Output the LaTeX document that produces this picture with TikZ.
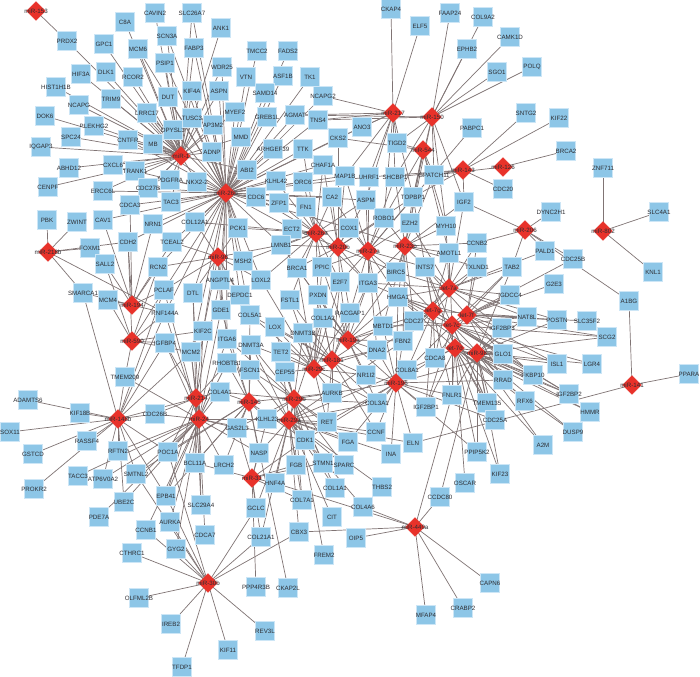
\documentclass[tikz,border=0pt]{standalone}
\usepackage{fontspec}
\usetikzlibrary{shapes.geometric}
\newfontfamily\netfam{Liberation Sans}
\newcommand\netlabelfont{\netfam\fontsize{6.2}{7}\selectfont}
\definecolor{geneblue}{RGB}{141,198,231}
\definecolor{genebd}{RGB}{205,230,246}
\definecolor{mirred}{RGB}{232,50,42}
\definecolor{edgec}{RGB}{128,116,116}
\definecolor{txtc}{RGB}{45,45,50}
\pgfdeclarelayer{bglayer}
\pgfdeclarelayer{edgelayer}
\pgfsetlayers{bglayer,edgelayer,main}
\tikzset{
  gene/.style={rectangle, fill=geneblue, draw=genebd, line width=0.5pt, minimum size=19pt, inner sep=0pt, font=\netlabelfont, text=txtc},
  mirna/.style={diamond, fill=mirred, draw=mirred, minimum width=19pt, minimum height=19pt, inner sep=0pt, font=\netlabelfont, text=txtc},
  edge/.style={draw=edgec, line width=0.7pt}
}
\begin{document}
\begin{tikzpicture}[x=1pt,y=-1pt]
\begin{pgfonlayer}{bglayer}
\fill[white] (0,0) rectangle (700,676);
\end{pgfonlayer}
\useasboundingbox (0,0) rectangle (700,676);
% genes
\foreach \n/\x/\y in {
PRDX2/67/41, C8A/125/22, CAVIN2/155/13, SCN3A/167/36, GPC1/104/44, MCM6/138/49, PSIP1/165/63, HIF3A/81/74, DLK1/106/72, RCOR2/133/77, HIST1H1B/56/87, DUT/168/97, NCAPG/79/105, TRIM9/111/99, LRRC17/147/113, DOK6/45/116, PLEKHG2/94/126, DPYSL3/173/130, SPC24/71/137, CNTFR/128/140, MB/153/144, IQGAP3/41/147, ABHD12/69/168, CXCL6/113/165, TRANK1/135/171, PDGFRA/170/180, CENPF/48/187, ERCC6L/103/191, CDC27B/148/188, TAC3/171/202, CDCA3/130/205, PBK/47/220, ZWINT/77/222, CAV1/103/220, NRN1/153/224,
SLC26A7/192/13, ANK1/221/28, FABP3/194/48, TMCC2/257/51, FADS2/288/51, WDR25/222/67, VTN/246/77, ASF1B/283/76, TK1/310/77, SAMD14/265/93, NCAPG2/323/96, KIF4A/192/91, ASPN/219/91, MYEF2/235/112, GREB1L/267/117, AGMAT/295/115, TNS4/318/120, TUSC3/192/118, AP3M2/213/125, MMD/241/137, ARHGEF39/273/149, TTK/303/149, CKS2/338/138, ADNP/212/152, CHAF1A/323/165, ABI2/247/170, KLHL42/276/181, ORC6/303/182, MAP1B/345/176, NKX2-2/197/182, CDC6/256/197, FN1/306/207, CA2/332/197, ZFP1/279/203, COL12A1/195/222, PCK1/238/228, ECT2/292/229,
CKAP4/391/9, ELF5/420/26, FAAP24/450/13, COL9A2/483/17, CAMK1D/510/37, EPHB2/467/49, SGO1/497/72, POLQ/532/67, ANO3/362/127, PABPC1/472/128, TIGD2/397/143, UHRF1/369/177, SHCBP1/395/177, GPATCH11/434/175, CDC20/503/189, ASPM/366/200, TOPBP1/413/197, IGF2/464/202, ROBO1/384/218, EZH2/410/223, MYH10/446/226, COX1/349/228, SNTG2/526/113, KIF22/559/118, BRCA2/566/151, ZNF711/603/168, DYNC2H1/551/212, SLC4A1/659/212,
FOXM1/90/248, CDH2/128/242, TCEAL2/172/242, SALL2/105/264, RCN2/158/267, SMARCA1/83/293, MCM4/108/300, PCLAF/164/290, RNF144A/165/313, IGFBP4/165/343, TMEM209/125/377, ADAMTS6/28/400, KIF18B/80/413, CDC26B/155/414, SOX11/10/432, RASSF4/87/441,
LMNB1/281/245, MSH2/243/261, BRCA1/297/268, PPIC/322/267, ANGPTL4/220/280, LOXL2/261/280, E2F7/340/282, DTL/193/293, DEPDC1/240/295, FSTL1/290/300, PXDN/318/295, GDE1/221/310, COL5A1/250/315, RACGAP1/350/313, COL1A2/323/318, KIF2C/203/331, LOX/275/327, DNMT3B/303/333, ITGA6/227/339, DNMT3A/251/345, MCM2/191/352, TET2/281/352, RHOBTB1/227/363, FSCN1/250/370, CEP55/285/372, COL4A1/220/392, AURKB/332/393, KLHL23/267/419, RET/327/422, GAS2L3/237/428, CDK1/305/440,
CCNB2/477/243, AMOTL1/449/253, BIRC5/396/272, INTS7/425/267, TXLND1/477/267, TAB2/512/267, ITGA3/368/283, HMGA1/398/297, IGDCC4/510/295, MBTD1/383/326, CDC27/414/321, IGF2BP3/502/328, FBN2/403/341, GLO1/503/354, DNA2/377/350, CDCA8/435/358, COL8A1/407/370, NR1I2/366/375, RRAD/503/380, FNLR1/452/395, TMEM135/487/403, COL3A1/377/403, IGF2BP1/426/407, CDC25A/495/420, CCNF/376/432, FGA/348/442, ELN/413/443,
PALD1/545/251, CDC25B/573/259, KNL1/653/272, G2E3/554/284, A1BG/629/301, NAT8L/527/317, POSTN/557/320, SLC35F2/587/321, SCG2/607/337, ISL1/557/364, LGR4/592/364, FKBP10/533/375, PPARA/689/374, IGF2BP2/569/394, RFX6/525/401, HMMR/590/412, DUSP9/573/432, A2M/543/445,
GSTCD/33/454, RFTN2/118/451, POC1A/168/452, PROKR2/34/489, TACC3/78/476, ATP6V0A2/103/479, SMTNL2/136/474, UBE2C/124/502, EPB41/166/496, PDE7A/99/517, CCNB1/146/530, AURKA/170/522, GYG2/176/549, CTHRC1/132/553, OLFML2B/139/598, IREB2/171/624, TFDP1/182/667,
BCL11A/195/463, LRCH2/224/465, NASP/259/453, HNF4A/275/483, FGB/296/465, STMN1/323/463, SPARC/344/465, COL1A1/335/488, SLC29A4/201/505, GCLC/256/508, COL7A1/302/500, CIT/332/517, CDCA7/205/535, COL21A1/261/537, CBX3/299/532, FREM2/324/555, PPP4R3B/256/587, CKAP2L/288/588, REV3L/265/631, KIF11/228/650,
INA/391/454, PPIP5K2/477/452, KIF23/500/474, THBS2/382/487, OSCAR/465/483, CCDC80/440/497, COL4A6/363/507, OIP5/356/538, CAPN6/490/583, CRABP2/463/608, MFAP4/426/615}
{\node[gene] (\n) at (\x,\y) {\makebox[0pt]{\n}};}
% miRNAs
\foreach \n/\t/\x/\y in {
m153/miR-153/36/11, m1/miR-1/181/156, m26b/miR-26b/226/193, m217/miR-217/393/113, m150/miR-150/432/117, m544/miR-544/423/150, m143/miR-143/463/170, m126/miR-126/503/167, m206/miR-206/525/230, m802/miR-802/603/231, m218/miR-218b/48/252, m194/miR-194/132/305, m590/miR-590/132/341, m96/miR-96/218/257, m26a/miR-26a/316/233, m20b/miR-20b/338/247, m27a/miR-27a/368/251, m23b/miR-23b/405/246, l7a/let-7a/449/288, l7g/let-7g/433/311, l7f/let-7f/467/315, l7c/let-7c/452/325, l7d/let-7d/455/348, m98/miR-98/477/353, m19a/miR-19a/348/340, m196/miR-196/396/383, m181/miR-181/332/360, m29c/miR-29c/314/369, m29b/miR-29b/294/399, m29a/miR-29a/289/420, m145/miR-145/249/402, m214/miR-214/196/398, m24/miR-24/199/419, m148/miR-148b/118/419, m31/miR-31/252/478, m30b/miR-30b/208/583, m449/miR-449a/415/527, m141/miR-141/632/385}
{\node[mirna] (\n) at (\x,\y) {\makebox[0pt]{\t}};}
% edges
\begin{pgfonlayer}{edgelayer}
\foreach \m/\gs in {
m153/{PRDX2},
m1/{PRDX2,C8A,CAVIN2,SCN3A,GPC1,MCM6,PSIP1,HIF3A,DLK1,RCOR2,HIST1H1B,DUT,NCAPG,TRIM9,LRRC17,DOK6,PLEKHG2,DPYSL3,SPC24,CNTFR,MB,IQGAP3,ABHD12,CXCL6,TRANK1,PDGFRA,CENPF,ERCC6L,CDC27B,FABP3,KIF4A,TUSC3,SLC26A7,ANK1,AP3M2,ADNP,NKX2-2,ABI2,MMD,WDR25,ASPN,MYEF2,TAC3,CDCA3},
m26b/{SCN3A,PSIP1,DUT,MCM6,FABP3,KIF4A,SLC26A7,TUSC3,ASPN,WDR25,VTN,TMCC2,SAMD14,GREB1L,MYEF2,MMD,AP3M2,ADNP,ARHGEF39,AGMAT,TNS4,TTK,ABI2,KLHL42,CDC6,ZFP1,ORC6,CHAF1A,CKS2,NCAPG2,TK1,FN1,CA2,MAP1B,ECT2,PCK1,COL12A1,NKX2-2,PDGFRA,TAC3,CDC27B,CDCA3,ERCC6L,CAV1,NRN1,TCEAL2,TRANK1,MB,CNTFR,LRRC17,DPYSL3,CDH2,RCN2,PCLAF,DTL,MSH2,ANGPTL4,DEPDC1,GDE1,KIF2C,LMNB1,ASF1B,FADS2,COX1,ASPM,UHRF1,ANO3,ITGA6,MCM2,RNF144A,COL5A1,LOXL2},
m217/{CKAP4,ELF5,NCAPG2,TNS4,ANO3,TIGD2,SHCBP1,UHRF1,MAP1B,ASPM,ROBO1,CKS2,TOPBP1,AGMAT},
m150/{FAAP24,COL9A2,EPHB2,CAMK1D,SGO1,POLQ,TNS4,AGMAT,GPATCH11,IGF2,TOPBP1,EZH2,SHCBP1,MYH10,TIGD2},
m544/{CKS2,TIGD2,TOPBP1,EZH2,ROBO1,GPATCH11,MYH10,AMOTL1},
m143/{SNTG2,KIF22,GPATCH11,SHCBP1,IGF2,CDC20,UHRF1,TOPBP1},
m126/{BRCA2,GPATCH11},
m206/{DYNC2H1,PALD1,A1BG,TAB2,CDC25B,CCNB2,IGF2},
m802/{ZNF711,SLC4A1,KNL1},
m141/{A1BG,PPARA,ELN},
l7a/{CCNB2,AMOTL1,TXLND1,TAB2,INTS7,BIRC5,HMGA1,MYH10,IGF2,EZH2,CDC27,IGDCC4,NAT8L,PALD1,IGF2BP3,FBN2,CDCA8,ITGA3,POSTN},
l7g/{AMOTL1,INTS7,HMGA1,BIRC5,CDC27,MBTD1,FBN2,CDCA8,COL8A1,IGF2BP1,FNLR1,TXLND1,GLO1,IGF2BP2,DNA2,NAT8L,TOPBP1,ITGA3},
l7f/{CCNB2,TXLND1,TAB2,IGDCC4,G2E3,NAT8L,POSTN,SLC35F2,SCG2,IGF2BP3,GLO1,RRAD,FKBP10,ISL1,HMGA1,CDC25B,INTS7,CDCA8},
l7c/{HMGA1,INTS7,IGDCC4,NAT8L,SCG2,ISL1,LGR4,FKBP10,IGF2BP2,RRAD,TMEM135,CDC25A,FNLR1,IGF2BP1,CDC27,MBTD1,COL8A1,GLO1,TAB2,AMOTL1},
l7d/{CDCA8,FNLR1,IGF2BP1,TMEM135,CDC25A,RRAD,RFX6,HMMR,DUSP9,A2M,IGF2BP2,FKBP10,GLO1,COL8A1,HMGA1,INTS7,PPIP5K2,KIF23,OSCAR},
m98/{GLO1,RRAD,RFX6,A2M,HMMR,DUSP9,IGF2BP2,ISL1,LGR4,SCG2,FKBP10,TMEM135,CDC25A,PPIP5K2,IGF2BP3,NAT8L,POSTN,CCDC80,KIF23,FNLR1,HMGA1,TAB2},
m218/{PBK,ZWINT,FOXM1,CDH2,SMARCA1,RNF144A},
m194/{CDH2,SALL2,MCM4,RNF144A,CAV1,NRN1,RCN2,SMARCA1,TCEAL2,PCLAF,CDCA3},
m590/{SALL2,MCM4,TMEM209,IGFBP4,RCN2,PCLAF,CDH2,RNF144A,KIF2C,MCM2},
m148/{ADAMTS6,KIF18B,SOX11,RASSF4,RFTN2,CDC26B,SMARCA1,TMEM209,POC1A,SMTNL2,ATP6V0A2,UBE2C,EPB41,PCLAF,RNF144A,GSTCD,PROKR2,COL4A1,MCM2,IGFBP4},
m24/{POC1A,SMTNL2,ATP6V0A2,TACC3,UBE2C,EPB41,AURKA,BCL11A,SLC29A4,CDCA7,RFTN2,CCNB1,GYG2,CDC26B,MCM2,KIF2C,DTL,RHOBTB1,ITGA6,COL4A1,IGFBP4,RNF144A,PCLAF,GDE1,TMEM209,GAS2L3,NASP,LRCH2,CDK1,KLHL23,PDE7A},
m214/{COL4A1,MCM2,KIF2C,DTL,POC1A,EPB41,BCL11A,SLC29A4,RHOBTB1,ANGPTL4,CDC26B,IGFBP4},
m145/{FSCN1,ITGA6,RHOBTB1,KLHL23,GAS2L3,COL4A1,DNMT3A,GDE1,COL5A1,CDK1,AURKB,LRCH2,NASP,BCL11A,EPB41,POC1A,SMTNL2,CKAP2L},
m30b/{CTHRC1,OLFML2B,IREB2,TFDP1,KIF11,REV3L,GCLC,COL21A1,CBX3,AURKA,EPB41,GYG2,SMTNL2,POC1A,CCNB1},
m31/{NASP,HNF4A,GCLC,COL21A1,FGB,BCL11A,STMN1,COL7A1,KLHL23,CDK1,GAS2L3,PPP4R3B},
m449/{CCDC80,COL4A6,OIP5,CAPN6,CRABP2,MFAP4,CBX3,FNLR1,HNF4A},
m29c/{COL1A2,COL5A1,LOX,DNMT3B,TET2,CEP55,PXDN,FSTL1,PPIC,E2F7,BRCA1,LOXL2,DNMT3A,AURKB,RET,COL3A1,NR1I2,DNA2,RACGAP1},
m29b/{COL4A1,FSCN1,CEP55,TET2,DNMT3A,DNMT3B,KLHL23,CDK1,RET,AURKB,FGB,STMN1,SPARC,COL1A1,COL7A1,FREM2,HNF4A,GAS2L3,LOX,ITGA6,COL3A1,FGA},
m29a/{COL1A1,COL1A2,COL3A1,COL4A6,COL7A1,COL21A1,CIT,CBX3,ELN,FGA,FGB,SPARC,THBS2,INA,STMN1,CDK1,RET,KLHL23,GCLC,NASP,CCNF,FBN2,COL8A1,DNMT3A,TET2,FSCN1},
m181/{TET2,DNMT3B,LOX,COL1A2,RACGAP1,AURKB,RET,CCNF,NR1I2,DNA2,COL3A1,MBTD1,ITGA3,E2F7,PXDN,FSTL1,COL5A1},
m19a/{RACGAP1,ITGA3,MBTD1,DNA2,NR1I2,HMGA1,BIRC5,E2F7,COL1A2,DNMT3B,PXDN,BRCA1,PPIC,FBN2,CDC27,LMNB1,COL3A1},
m196/{NR1I2,COL3A1,COL8A1,DNA2,CCNF,HMGA1,IGF2BP1,FBN2,CDCA8,MBTD1,CDC25A,TMEM135,RRAD,GLO1,FGA,ELN,INA,CDK1,RET,AURKB,COL1A2,PPIP5K2},
m26a/{ECT2,LMNB1,BRCA1,PPIC,FN1,CA2,COX1,ZFP1,CDC6,ORC6,CHAF1A,E2F7,PXDN,FSTL1,PCK1,MSH2,LOXL2,COL12A1,KLHL42,TTK,ITGA3,ASPM},
m20b/{COX1,CA2,FN1,ECT2,BRCA1,PPIC,E2F7,ITGA3,ASPM,ROBO1,MAP1B,CHAF1A,CKS2,LMNB1,RACGAP1,BIRC5,TOPBP1},
m27a/{COX1,ROBO1,EZH2,ASPM,TOPBP1,SHCBP1,UHRF1,MAP1B,ITGA3,BIRC5,HMGA1,E2F7,PPIC,RACGAP1,INTS7,DNA2,PABPC1,CA2,MBTD1},
m23b/{EZH2,TOPBP1,ROBO1,MYH10,CCNB2,AMOTL1,INTS7,BIRC5,HMGA1,ITGA3,CDC27,IGF2,SHCBP1,GPATCH11,TXLND1,MBTD1,FBN2,COX1},
m96/{MSH2,ANGPTL4,DTL,GDE1,PCK1,LOXL2,DEPDC1,COL12A1,TCEAL2,RCN2,KIF2C,COL5A1,ITGA6,LMNB1,PCLAF}}
{\foreach \g in \gs {\draw[edge] (\m.center) -- (\g.center);}}
\end{pgfonlayer}
\end{tikzpicture}
\end{document}
